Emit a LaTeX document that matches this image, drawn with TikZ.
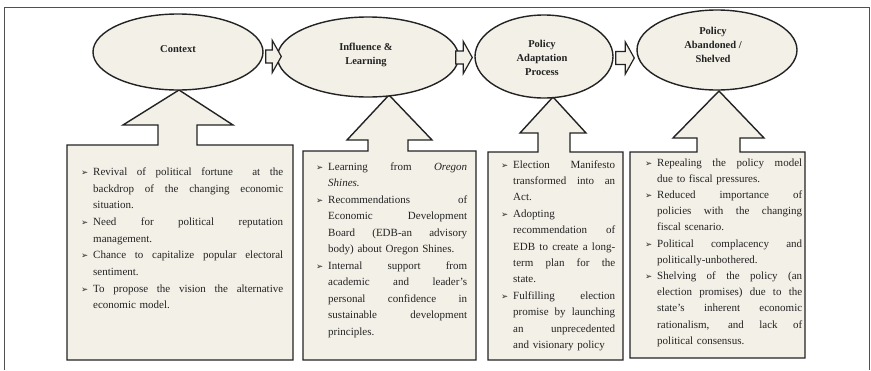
\documentclass[tikz,border=0pt]{standalone}
\usepackage{fontspec}
\setmainfont{Liberation Serif}
\newfontfamily\dejavu{DejaVu Sans}
\usetikzlibrary{shapes.geometric,calc}
\definecolor{beige}{RGB}{243,240,231}
\definecolor{ink}{RGB}{35,35,35}
\definecolor{framec}{RGB}{80,80,80}
\setlength\parindent{0pt}
\newlength\bw
\newcommand\jl[1]{\leavevmode\hbox to \bw{\spaceskip=0.25em plus 3em\relax #1}}
\newcommand\bul{\leavevmode\strut\llap{{\dejavu\fontsize{8.5}{8.5}\selectfont ➢}\hspace{5pt}}}
\newcommand\blockarrow[2]{%
  \draw[blockline] let \p1=(#1), \p2=(#2) in
    (\x1,\y1+6.5pt) -- (\x2-9pt,\y1+6.5pt) -- (\x2-9pt,\y1+16pt) -- (\x2,\y1)
    -- (\x2-9pt,\y1-16pt) -- (\x2-9pt,\y1-6.5pt) -- (\x1,\y1-6.5pt) -- cycle;}
\tikzset{
  ell/.style={ellipse, draw=ink, fill=beige, line width=1.4pt, inner sep=0pt},
  elltext/.style={align=center, font=\bfseries\fontsize{10.5}{14}\selectfont, text=ink},
  boxline/.style={draw=ink, fill=beige, line width=1.4pt, line join=miter},
  blockline/.style={draw=ink, fill=beige, line width=1.2pt, line join=miter},
  boxtext/.style={anchor=north west, align=left, inner sep=0pt, text=ink},
  frameline/.style={draw=framec, line width=0.9pt}
}
\begin{document}
\begin{tikzpicture}[x=1pt,y=-1pt]
\useasboundingbox (0,0) rectangle (871,370);
% outer frame
\draw[frameline] (4,370) -- (4,7) -- (869,7) -- (869,370);

% arrow + box shapes
\draw[boxline] (67,145) -- (158,145) -- (158,125) -- (123,125) -- (179,90) -- (233,125)
  -- (197,125) -- (197,145) -- (293,145) -- (293,360) -- (67,360) -- cycle;
\draw[boxline] (303,151) -- (368,151) -- (368,140) -- (347,140) -- (389,95) -- (432,140)
  -- (408,140) -- (408,151) -- (476,151) -- (476,360) -- (303,360) -- cycle;
\draw[boxline] (488,152) -- (538,152) -- (538,133) -- (520,133) -- (553,97) -- (586,133)
  -- (570,133) -- (570,152) -- (623,152) -- (623,360) -- (488,360) -- cycle;
\draw[boxline] (630,152) -- (697,152) -- (697,138) -- (673,138) -- (719,91) -- (764,138)
  -- (740,138) -- (740,152) -- (805,152) -- (805,358) -- (630,358) -- cycle;

% ellipses
\node[ell, minimum width=170pt, minimum height=76pt] (ctx) at (178,52) {};
\node[ell, minimum width=181pt, minimum height=80pt] (inf) at (368,57) {};
\node[ell, minimum width=138pt, minimum height=83pt] (ada) at (544,56.5) {};
\node[ell, minimum width=160pt, minimum height=80pt] (aba) at (717,50) {};

% block arrows between ellipses
\coordinate (a1s) at ($(ctx.east)+(2,4.5)$);
\coordinate (a1t) at ($(inf.west)+(4.5,-0.5)$);
\coordinate (a2s) at ($(inf.east)+(-3.5,0.5)$);
\coordinate (a2t) at ($(ada.west)+(-2,1)$);
\coordinate (a3s) at ($(ada.east)+(2,1.5)$);
\coordinate (a3t) at ($(aba.west)+(-2,8)$);
\blockarrow{a1s}{a1t}
\blockarrow{a2s}{a2t}
\blockarrow{a3s}{a3t}

% ellipse labels
\node[elltext] (l1) at (178,49) {Context};
\node[elltext] (l2) at (366,55) {Influence \&\\Learning};
\node[elltext] (l3) at (542,57.5) {Policy\\Adaptation\\Process};
\node[elltext] (l4) at (713,45) {Policy\\Abandoned /\\Shelved};

% box texts
\node[boxtext, text width=190pt, font=\fontsize{11}{16.7}\selectfont] (t1) at (93,163.5) {%
\setlength\bw{190pt}%
\bul\jl{Revival of political fortune \ at the}\\
\jl{backdrop of the changing economic}\\
situation.\\
\bul\jl{Need for political reputation}\\
management.\\
\bul\jl{Chance to capitalize popular electoral}\\
sentiment.\\
\bul\jl{To propose the vision the alternative}\\
economic model.};

\node[boxtext, text width=139pt, font=\fontsize{11}{16.5}\selectfont] (t2) at (328,158.5) {%
\setlength\bw{139pt}%
\bul\jl{Learning from \textit{Oregon}}\\
\textit{Shines.}\\
\bul\jl{Recommendations of}\\
\jl{Economic Development}\\
\jl{Board (EDB-an advisory}\\
body) about Oregon Shines.\\
\bul\jl{Internal support from}\\
\jl{academic and leader's}\\
\jl{personal confidence in}\\
\jl{sustainable development}\\
principles.};

\node[boxtext, text width=102pt, font=\fontsize{11}{16.4}\selectfont] (t3) at (513,156.5) {%
\setlength\bw{102pt}%
\bul\jl{Election Manifesto}\\
\jl{transformed into an}\\
Act.\\
\bul Adopting\\
\jl{recommendation of}\\
\jl{EDB to create a long-}\\
\jl{term plan for the}\\
state.\\
\bul\jl{Fulfilling election}\\
\jl{promise by launching}\\
\jl{an unprecedented}\\
and visionary policy};

\node[boxtext, text width=145pt, font=\fontsize{11}{16.2}\selectfont] (t4) at (657,154.5) {%
\setlength\bw{145pt}%
\bul\jl{Repealing the policy model}\\
due to fiscal pressures.\\
\bul\jl{Reduced importance of}\\
\jl{policies with the changing}\\
fiscal scenario.\\
\bul\jl{Political complacency and}\\
politically-unbothered.\\
\bul\jl{Shelving of the policy (an}\\
\jl{election promises) due to the}\\
\jl{state's inherent economic}\\
\jl{rationalism, and lack of}\\
political consensus.};
\end{tikzpicture}
\end{document}
